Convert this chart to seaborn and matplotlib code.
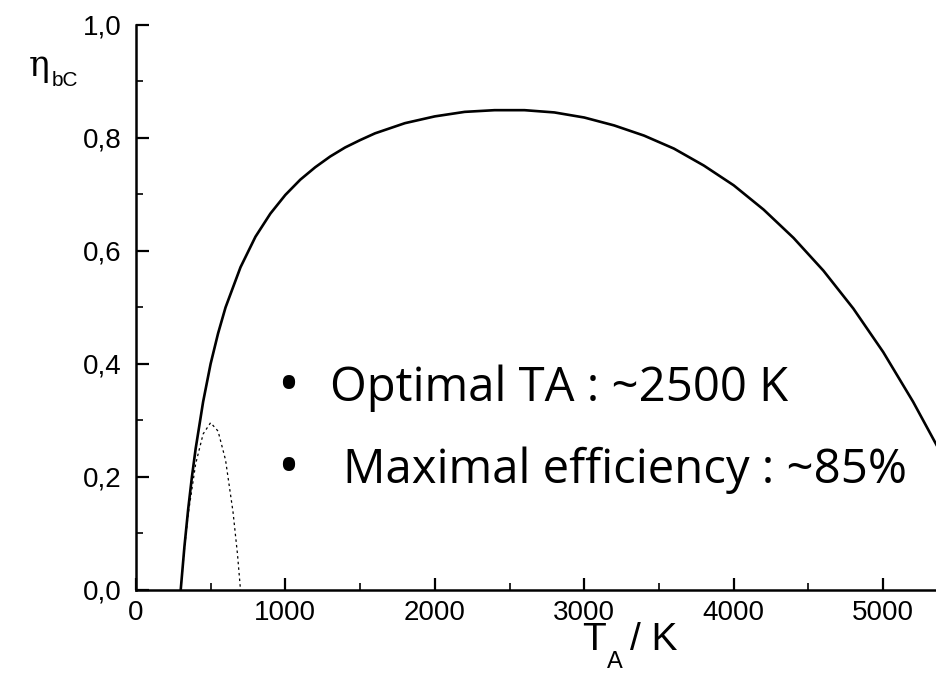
import matplotlib
matplotlib.use("Agg")
import matplotlib.pyplot as plt
from matplotlib.ticker import MultipleLocator
import seaborn as sns
import pandas as pd

# Absorber temperature (K) and efficiency of the solid curve
t_main = [300, 325, 350, 375, 400, 450, 500, 550, 600, 700, 800, 900, 1000,
          1100, 1200, 1300, 1400, 1500, 1600, 1800, 2000, 2200, 2400, 2600,
          2800, 3000, 3200, 3400, 3600, 3800, 4000, 4200, 4400, 4600, 4800,
          5000, 5200, 5360]
eta_main = [0.0, 0.077, 0.143, 0.200, 0.25, 0.333, 0.40, 0.454, 0.50, 0.571,
            0.625, 0.666, 0.699, 0.726, 0.748, 0.767, 0.783, 0.796, 0.808,
            0.826, 0.838, 0.846, 0.849, 0.849, 0.845, 0.836, 0.822, 0.804,
            0.781, 0.751, 0.716, 0.673, 0.623, 0.565, 0.498, 0.421, 0.333,
            0.255]

# Dotted curve
t_low = [300, 325, 350, 400, 450, 500, 550, 600, 650, 680, 700]
eta_low = [0.0, 0.072, 0.134, 0.223, 0.276, 0.296, 0.281, 0.230, 0.138, 0.063, 0.0]

x_ticks = [0, 1000, 2000, 3000, 4000, 5000]
x_ticklabels = ["0", "1000", "2000", "3000", "4000", "5000"]
y_ticks = [0.0, 0.2, 0.4, 0.6, 0.8, 1.0]
y_ticklabels = ["0,0", "0,2", "0,4", "0,6", "0,8", "1,0"]

bullets = ["Optimal TA : ~2500 K", "Maximal efficiency : ~85%"]

sns.set_theme(style="white")
plt.rcParams["font.family"] = ["Liberation Sans", "DejaVu Sans"]
plt.rcParams["text.color"] = "black"

fig = plt.figure(figsize=(9.37, 6.90), dpi=100)
ax = fig.add_axes([0.145, 0.145, 0.855, 0.819])

df_main = pd.DataFrame({"T": t_main, "eta": eta_main})
df_low = pd.DataFrame({"T": t_low, "eta": eta_low})
sns.lineplot(data=df_main, x="T", y="eta", ax=ax, color="black",
             linewidth=1.9, estimator=None, sort=True)
sns.lineplot(data=df_low, x="T", y="eta", ax=ax, color="black",
             linewidth=0.9, estimator=None, sort=True, linestyle=(0, (2, 2.5)))

ax.set_xlim(0, 5360)
ax.set_ylim(0, 1.0)
ax.set_xticks(x_ticks)
ax.set_xticklabels(x_ticklabels)
ax.set_yticks(y_ticks)
ax.set_yticklabels(y_ticklabels)
ax.xaxis.set_minor_locator(MultipleLocator(500))
ax.yaxis.set_minor_locator(MultipleLocator(0.1))
ax.tick_params(which="major", direction="in", length=9, width=1.6,
               labelsize=20, colors="black")
ax.tick_params(which="minor", direction="in", length=5, width=1.4)
ax.tick_params(axis="y", pad=10, left=True, which="both")
ax.tick_params(axis="x", pad=7, bottom=True, which="both")
ax.set_xlabel("")
ax.set_ylabel("")
for side in ("top", "right"):
    ax.spines[side].set_visible(False)
for side in ("left", "bottom"):
    ax.spines[side].set_linewidth(1.8)
    ax.spines[side].set_color("black")

# Axis titles
fig.text(0.031, 0.905, "\u03b7", fontsize=25, family="DejaVu Serif",
         ha="left", va="center")
fig.text(0.055, 0.884, "bC", fontsize=15, ha="left", va="center")
fig.text(0.621, 0.072, "T", fontsize=28, ha="left", va="center")
fig.text(0.648, 0.040, "A", fontsize=17, ha="left", va="center")
fig.text(0.672, 0.072, "/ K", fontsize=28, ha="left", va="center")

# Bullet annotations
for ypos, xpos, txt in zip([0.437, 0.318], [0.352, 0.366], bullets):
    fig.text(0.296, ypos, "\u2022", fontsize=42, family="Open Sans",
             ha="left", va="center")
    fig.text(xpos, ypos, txt, fontsize=34, family="Open Sans",
             ha="left", va="center")

fig.savefig("out.png", dpi=100)
